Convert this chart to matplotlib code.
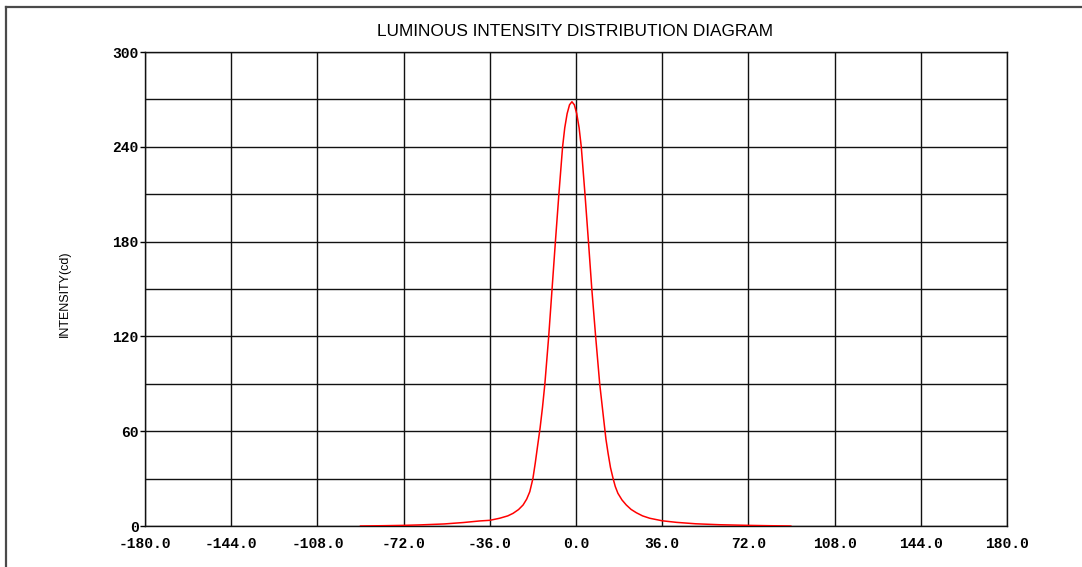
import matplotlib
matplotlib.use("Agg")
import matplotlib.pyplot as plt
from matplotlib.lines import Line2D
from matplotlib.ticker import MultipleLocator

# Data (angle in degrees, intensity in cd)
angles = [-90.0, -80.0, -72.0, -65.0, -55.0, -47.0, -40.2, -36.0, -31.9, -28.5,
          -26.3, -24.0, -22.1, -20.6, -19.3, -18.0, -17.0, -16.1, -15.0, -14.0,
          -13.0, -11.4, -10.0, -8.6, -7.15, -5.6, -4.7, -3.7, -2.7, -1.7,
          -0.7, 0.3, 1.3, 2.2, 3.75, 5.2, 6.6, 8.2, 9.9, 11.6,
          12.5, 13.4, 14.4, 15.5, 16.4, 17.5, 19.2, 21.0, 23.0, 25.2,
          27.8, 30.8, 36.0, 42.0, 50.0, 60.0, 72.0, 80.0, 89.7]
intensity = [0.0, 0.2, 0.4, 0.7, 1.3, 2.2, 3.2, 3.6, 4.9, 6.4,
             8.0, 10.4, 13.3, 17.0, 21.7, 30.0, 40.0, 50.0, 62.0, 75.0,
             90.0, 120.0, 150.0, 180.0, 210.0, 240.0, 252.0, 261.0, 266.6, 268.5,
             266.6, 261.0, 252.0, 240.0, 210.0, 180.0, 150.0, 120.0, 90.0, 67.0,
             55.0, 46.0, 37.0, 30.0, 25.0, 20.7, 16.5, 13.3, 10.5, 8.4,
             6.4, 4.9, 3.3, 2.3, 1.4, 0.8, 0.4, 0.2, 0.0]

x_ticks = [-180, -144, -108, -72, -36, 0, 36, 72, 108, 144, 180]
x_tick_labels = ["-180.0", "-144.0", "-108.0", "-72.0", "-36.0", "0.0",
                 "36.0", "72.0", "108.0", "144.0", "180.0"]
y_ticks = [0, 60, 120, 180, 240, 300]
y_tick_labels = ["0", "60", "120", "180", "240", "300"]

title = "LUMINOUS INTENSITY DISTRIBUTION DIAGRAM"
ylabel = "INTENSITY(cd)"

fig = plt.figure(figsize=(10.82, 5.67), dpi=100)
fig.patch.set_facecolor("white")

# outer frame (only top and left edges visible)
fig.add_artist(Line2D([6/1082, 6/1082], [0, 1 - 7/567], transform=fig.transFigure,
                      color="#4a4a4a", lw=1.6))
fig.add_artist(Line2D([6/1082, 1], [1 - 7/567, 1 - 7/567], transform=fig.transFigure,
                      color="#4a4a4a", lw=1.6))

ax = fig.add_axes([145/1082, 1 - 526/567, 862/1082, 474/567])
ax.plot(angles, intensity, color="#ff0000", lw=1.1, zorder=3)

ax.set_xlim(-180, 180)
ax.set_ylim(0, 300)
ax.set_xticks(x_ticks)
ax.set_xticklabels(x_tick_labels)
ax.set_yticks(y_ticks)
ax.set_yticklabels(y_tick_labels)
ax.yaxis.set_minor_locator(MultipleLocator(30))

ax.grid(True, which="major", color="#111111", lw=1.0)
ax.grid(True, which="minor", axis="y", color="#111111", lw=1.0)
for s in ax.spines.values():
    s.set_color("#111111")
    s.set_linewidth(1.0)

for lab in ax.get_xticklabels() + ax.get_yticklabels():
    lab.set_fontfamily("Liberation Mono")
    lab.set_fontweight("bold")
    lab.set_fontsize(10.5)

ax.tick_params(axis="x", which="both", length=0, pad=8)
ax.tick_params(axis="y", which="major", length=3.5, width=1.0, pad=1, direction="out")
ax.tick_params(axis="y", which="minor", length=0)

fig.text(575/1082, 1 - 31/567, title, ha="center", va="center",
         family="Liberation Sans", fontsize=12.4)
fig.text(65/1082, 1 - 294/567, ylabel, ha="center", va="center", rotation=90,
         family="Liberation Sans", fontsize=9)

fig.savefig("out.png", dpi=100)
